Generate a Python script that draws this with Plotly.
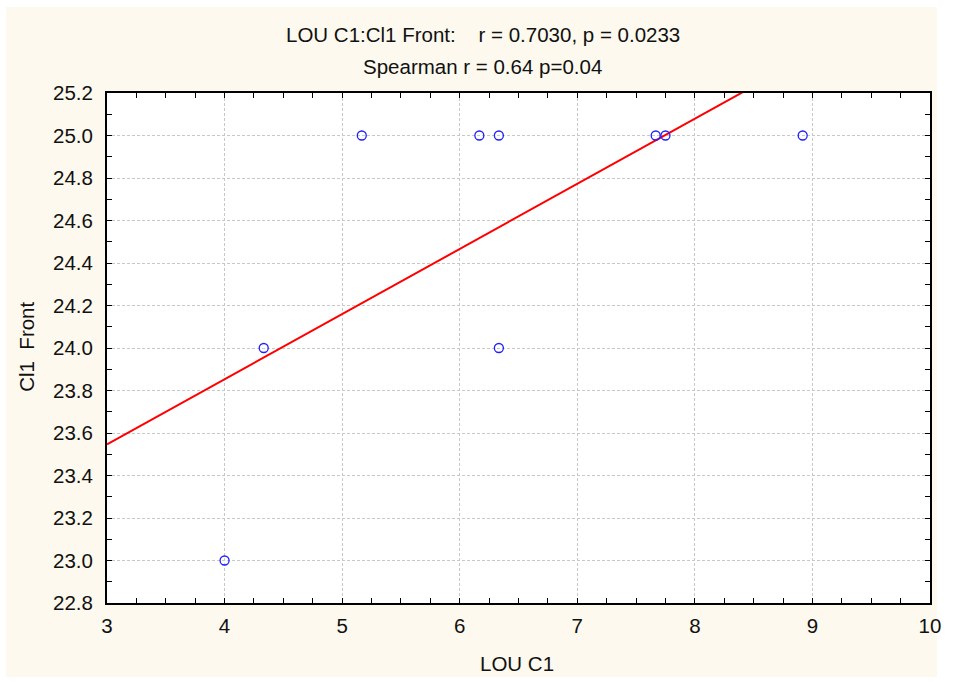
import plotly.graph_objects as go

# Data
lou_c1 = [4.0, 4.333, 5.167, 6.167, 6.333, 6.333, 7.667, 7.75, 8.917]
cl1_front = [23.0, 24.0, 25.0, 25.0, 25.0, 24.0, 25.0, 25.0, 25.0]
fit_intercept = 22.627
fit_slope = 0.3065
x_range = [3, 10]
y_range = [22.8, 25.2]
x_ticks = [3, 4, 5, 6, 7, 8, 9, 10]
y_ticks = [22.8, 23.0, 23.2, 23.4, 23.6, 23.8, 24.0, 24.2, 24.4, 24.6, 24.8, 25.0, 25.2]
title1 = "LOU C1:Cl1 Front:    r = 0.7030, p = 0.0233"
title2 = "Spearman r = 0.64 p=0.04"
x_title = "LOU C1"
y_title = "Cl1  Front"

FONT = "Liberation Sans, Arial, sans-serif"
CREAM = "#FDF9EE"
FS = 20.5

fit_x = x_range
fit_y = [fit_intercept + fit_slope * v for v in fit_x]

fig = go.Figure()
fig.add_trace(go.Scatter(
    x=fit_x, y=fit_y, mode="lines",
    line=dict(color="#FF0000", width=2), showlegend=False, hoverinfo="skip"))
fig.add_trace(go.Scatter(
    x=lou_c1, y=cl1_front, mode="markers",
    marker=dict(symbol="circle-open", size=9, color="#1E1EFF", line=dict(width=1.3, color="#1E1EFF")),
    showlegend=False))

W, H = 953, 684
L, R, T, B = 107, 15, 93, 81
pw, ph = W - L - R, H - T - B

def px_x(px):
    return (px - L) / pw

def px_y(py):
    return (H - B - py) / ph

axis_common = dict(
    showline=True, linecolor="black", linewidth=2, mirror="ticks",
    ticks="inside", ticklen=5, tickcolor="black", tickwidth=1,
    showgrid=True, gridcolor="#C8C8C8", gridwidth=1, griddash="3px,2px",
    zeroline=False, tickfont=dict(family=FONT, size=FS, color="#111111"),
)

fig.update_xaxes(range=x_range, tickvals=x_ticks, ticklabelstandoff=3,
                 minor=dict(ticks="inside", dtick=0.25, ticklen=5, tickcolor="black", showgrid=False),
                 **axis_common)
fig.update_yaxes(range=y_range, tickvals=y_ticks, tickformat=".1f", ticklabelstandoff=8,
                 minor=dict(ticks="inside", dtick=0.1, ticklen=5, tickcolor="black", showgrid=False),
                 **axis_common)

fig.update_layout(
    width=W, height=H, autosize=False,
    margin=dict(l=L, r=R, t=T, b=B, pad=0),
    paper_bgcolor="white", plot_bgcolor="white",
    font=dict(family=FONT, size=FS, color="#111111"),
    shapes=[
        dict(type="rect", xref="paper", yref="paper", layer="below",
             x0=px_x(5), x1=px_x(945), y0=px_y(677), y1=px_y(7),
             fillcolor=CREAM, line=dict(width=0)),
        dict(type="rect", xref="paper", yref="paper", layer="below",
             x0=0, x1=1, y0=0, y1=1, fillcolor="white", line=dict(width=0)),
    ],
    annotations=[
        dict(text=title1, xref="paper", yref="paper", x=px_x(487), y=px_y(35),
             xanchor="center", yanchor="middle", showarrow=False,
             font=dict(family=FONT, size=FS, color="#111111")),
        dict(text=title2, xref="paper", yref="paper", x=px_x(486), y=px_y(67),
             xanchor="center", yanchor="middle", showarrow=False,
             font=dict(family=FONT, size=FS, color="#111111")),
        dict(text=x_title, xref="paper", yref="paper", x=px_x(521), y=px_y(663),
             xanchor="center", yanchor="middle", showarrow=False,
             font=dict(family=FONT, size=FS, color="#111111")),
        dict(text=y_title, xref="paper", yref="paper", x=px_x(25), y=px_y(347),
             xanchor="center", yanchor="middle", showarrow=False, textangle=-90,
             font=dict(family=FONT, size=FS, color="#111111")),
    ],
)

fig.write_html("out.html", config={"displayModeBar": False, "responsive": False},
               post_script="document.body.style.margin='0px';")
